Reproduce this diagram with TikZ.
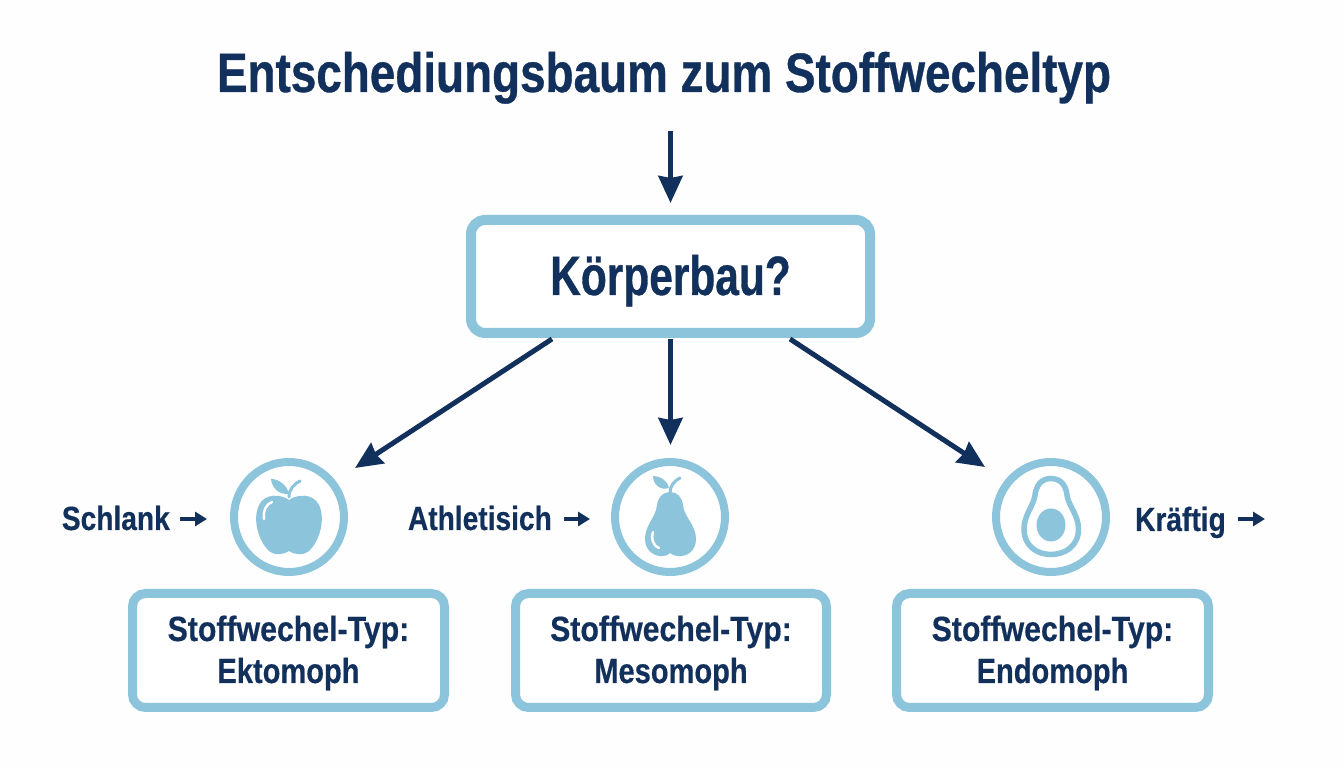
\documentclass[tikz,border=0pt]{standalone}
\usepackage{fontspec}
\setmainfont{Liberation Sans}
\newfontface\titleface[FakeStretch=0.826,FakeBold=0.6]{Liberation Sans Bold}
\newfontface\qface[FakeStretch=0.765,FakeBold=0.6]{Liberation Sans Bold}
\newfontface\typeface[FakeStretch=0.865,FakeBold=0.4]{Liberation Sans Bold}
\newfontface\typenameface[FakeStretch=0.83,FakeBold=0.4]{Liberation Sans Bold}
\newfontface\labface[FakeStretch=0.84,FakeBold=0.4]{Liberation Sans Bold}
\usetikzlibrary{arrows.meta,calc}
\definecolor{navy}{HTML}{12305C}
\definecolor{sky}{HTML}{8CC4DC}
\newcommand{\typetext}[2]{\raisebox{0pt}[65pt][0pt]{\begin{tabular}[b]{@{}c@{}}#1\\\typenameface #2\end{tabular}}}
\tikzset{
  x=1pt,y=1pt,
  txt/.style={text=navy,inner sep=0pt,align=center},
  ttl/.style={txt,font=\fontsize{55.5}{58}\titleface},
  qbox/.style={draw=sky,line width=10pt,rounded corners=14pt,fill=white,minimum width=399pt,minimum height=113pt,txt,font=\fontsize{55.5}{58}\qface},
  typebox/.style={draw=sky,line width=9pt,rounded corners=13pt,fill=white,minimum width=312pt,minimum height=114pt,txt,font=\fontsize{35}{42}\typeface},
  ring/.style={circle,draw=sky,line width=8pt,minimum size=110pt,inner sep=0pt,fill=white},
  lab/.style={txt,font=\fontsize{33.5}{36}\labface},
  bigarrow/.style={draw=navy,line width=5pt,-{Stealth[length=27pt,width=24pt,inset=2pt]}},
  smallarrow/.style={draw=navy,line width=4.2pt,-{Stealth[length=12pt,width=14pt,inset=0pt]}},
  icon/.style={fill=sky,draw=none},
  iconline/.style={draw=sky,line cap=round}
}
\begin{document}
\begin{tikzpicture}
\useasboundingbox (0,0) rectangle (1344,768);
\fill[white!99!sky] (0,0) rectangle (1344,768);
\node[ttl,anchor=base] (title) at (664,676) {Entschediungsbaum zum Stoffwecheltyp};
\node[qbox] (q) at (670.5,491.5) {\raisebox{0pt}[37pt][0pt]{Körperbau?}};
\node[ring] (c1) at (289,251) {};
\node[ring] (c2) at (670,251) {};
\node[ring] (c3) at (1051,251) {};
\node[typebox,minimum width=312pt] (t1) at (288.5,117.5) {\typetext{Stoffwechel-Typ:}{Ektomoph}};
\node[typebox,minimum width=311pt] (t2) at (671,117.5) {\typetext{Stoffwechel-Typ:}{Mesomoph}};
\node[typebox,minimum width=312pt] (t3) at (1052.5,117.5) {\typetext{Stoffwechel-Typ:}{Endomoph}};
\node[lab,anchor=base east] (l1) at (170,238) {Schlank};
\node[lab,anchor=base east] (l2) at (552,238) {Athletisich};
\node[lab,anchor=base east] (l3) at (1226,237) {Kräftig};
\coordinate (a1) at (207,249);
\coordinate (a2) at (590,249);
\coordinate (a3) at (1265,249);
% connectors
\draw[bigarrow] (670.5,637) -- ($(q.north)+(0,12)$);
\draw[bigarrow] ($(q.south)+(-118.5,-1)$) -- ($(c1.center)+(66,49)$);
\draw[bigarrow] ($(q.south)+(0,-1)$) -- ($(q.south)+(0,-107)$);
\draw[bigarrow] ($(q.south)+(119.5,-1)$) -- ($(c3.center)+(-66,50)$);
\draw[smallarrow] (180,249) -- (a1);
\draw[smallarrow] (564,249) -- (a2);
\draw[smallarrow] (1238,249) -- (a3);
% apple
\begin{scope}[shift={(c1.center)}]
\path[icon] (0,17) .. controls (-8,23) and (-24,24) .. (-30,12)
  .. controls (-37,-3) and (-30,-24) .. (-21,-33)
  .. controls (-15,-39) and (-6,-38) .. (0,-34)
  .. controls (6,-38) and (15,-39) .. (21,-33)
  .. controls (30,-24) and (37,-3) .. (30,12)
  .. controls (24,24) and (8,23) .. (0,17) -- cycle;
\draw[iconline,line width=3pt] (0,20) .. controls (0,28) and (5,33) .. (11,36);
\path[icon] (0,23) .. controls (-2,32) and (-10,38) .. (-18,38)
  .. controls (-17,28) and (-9,22) .. (0,23) -- cycle;
\draw[white,line width=2.5pt,line cap=round] (-25,-2) .. controls (-26,6) and (-23,13) .. (-17,15);
\end{scope}
% pear
\begin{scope}[shift={(c2.center)}]
\path[icon] (0,25) .. controls (-7,25) and (-12,20) .. (-13,12)
  .. controls (-14,0) and (-25,-8) .. (-25,-22)
  .. controls (-25,-34) and (-15,-40) .. (-7,-39)
  .. controls (-4,-39) and (-2,-38) .. (0,-36)
  .. controls (2,-38) and (5,-39) .. (8,-39)
  .. controls (17,-40) and (26,-34) .. (26,-22)
  .. controls (26,-8) and (14,0) .. (13,12)
  .. controls (12,20) and (7,25) .. (0,25) -- cycle;
\draw[iconline,line width=3pt] (0,24) .. controls (0,31) and (4,36) .. (10,39);
\path[icon] (-1,29) .. controls (-3,37) and (-10,41) .. (-17,41)
  .. controls (-17,33) and (-10,26) .. (-1,29) -- cycle;
\draw[white,line width=2.5pt,line cap=round] (-17,-15) .. controls (-19,-20) and (-18,-28) .. (-11,-31);
\end{scope}
% avocado
\begin{scope}[shift={(c3.center)}]
\draw[sky,line width=5.5pt] (0,38.5) .. controls (-10,38.5) and (-15,31) .. (-16,22)
  .. controls (-17,12) and (-27,2) .. (-27,-12)
  .. controls (-27,-29) and (-14,-37.5) .. (0,-37.5)
  .. controls (14,-37.5) and (27.5,-29) .. (27.5,-12)
  .. controls (27.5,2) and (17,12) .. (16,22)
  .. controls (15,31) and (10,38.5) .. (0,38.5) -- cycle;
\fill[sky] (0,-8) ellipse [x radius=14.5, y radius=16.5];
\end{scope}
\end{tikzpicture}
\end{document}
